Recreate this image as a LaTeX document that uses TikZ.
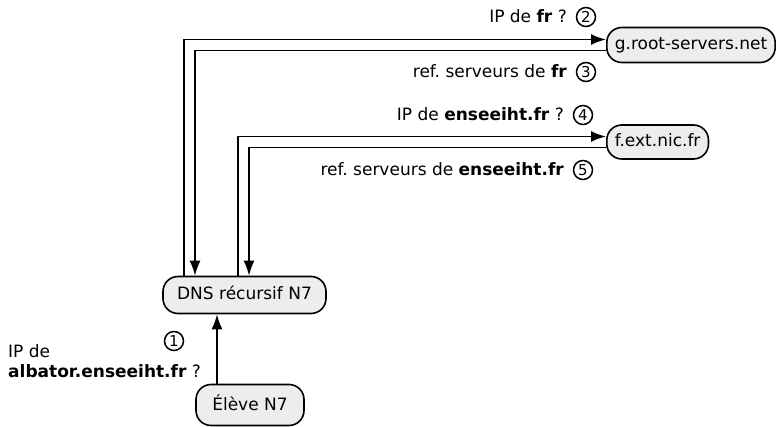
\documentclass[tikz,border=0pt]{standalone}
\usepackage{fontspec}
\setmainfont{DejaVu Sans}
\usetikzlibrary{arrows.meta}
\frenchspacing
\begin{document}
\begin{tikzpicture}[x=1pt,y=-1pt,
  font=\fontsize{17pt}{20.5pt}\selectfont,
  srv/.style={draw, line width=1.6pt, fill=black!7, rounded corners=15pt,
    text height=12.5pt, text depth=3.5pt, inner xsep=8pt, inner ysep=0pt},
  conn/.style={line width=1.8pt, draw=black},
  tip/.style={-{Latex[length=15pt,width=11pt]}},
  lbl/.style={inner sep=0pt},
  cnum/.style={circle, draw, line width=1.5pt, minimum size=19pt, inner sep=0pt,
    font=\fontsize{15pt}{15pt}\selectfont}
]
\path[use as bounding box] (0,0) rectangle (777,427);

% nodes
\node[srv, anchor=west, minimum height=35pt] (groot) at (606,45) {g.root-servers.net};
\node[srv, anchor=west, minimum height=34pt] (fext) at (606,142) {f.ext.nic.fr};
\node[srv, minimum width=163pt, minimum height=37pt] (dns) at (244.5,295) {DNS récursif N7};
\node[srv, minimum width=108pt, minimum height=41pt, text height=15.5pt] (eleve) at (250,405) {Élève N7};

% connectors
\draw[conn, tip] ([xshift=-60.5pt]dns.north) |- ([yshift=5.5pt]groot.west);
\draw[conn, tip] ([yshift=-5.5pt]groot.west) -| ([xshift=-49.5pt]dns.north);
\draw[conn, tip] ([xshift=-6.5pt]dns.north) |- ([yshift=5.5pt]fext.west);
\draw[conn, tip] ([yshift=-5.5pt]fext.west) -| ([xshift=4.5pt]dns.north);
\draw[conn, tip] ([xshift=-33pt]eleve.north) -- ([xshift=-27.5pt]dns.south);

% labels
\node[lbl, anchor=base east] (l2) at (567,23) {IP de \textbf{fr} ?};
\node[cnum] (c2) at (586,17) {2};
\node[lbl, anchor=base east] (l3) at (567,78) {ref. serveurs de \textbf{fr}};
\node[cnum] (c3) at (586,72) {3};
\node[lbl, anchor=base east] (l4) at (564,121) {IP de \textbf{enseeiht.fr} ?};
\node[cnum] (c4) at (583,115) {4};
\node[lbl, anchor=base east] (l5) at (564,176) {ref. serveurs de \textbf{enseeiht.fr}};
\node[cnum] (c5) at (583,170) {5};
\node[cnum] (c1) at (174,341) {1};
\node[lbl, anchor=north west, align=left] (l1) at (8,344) {IP de\\\textbf{albator.enseeiht.fr} ?};
\end{tikzpicture}
\end{document}
